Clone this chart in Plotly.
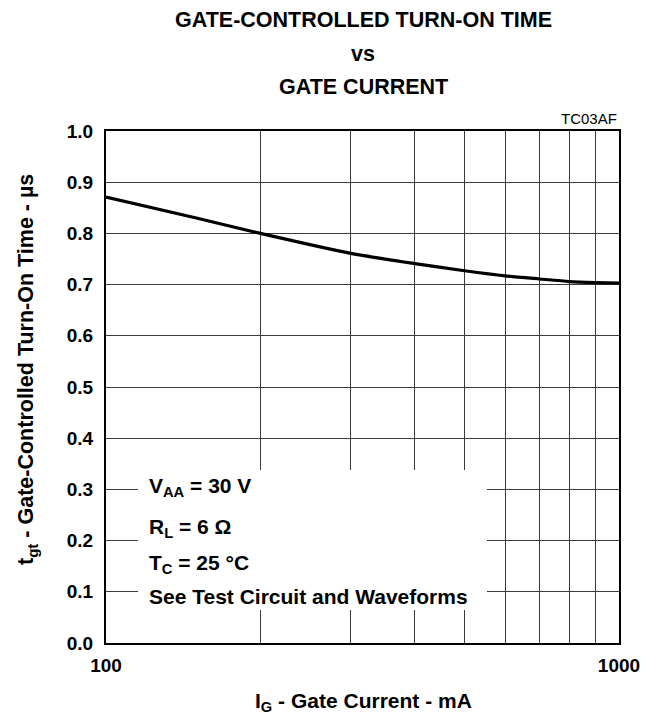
import plotly.graph_objects as go

# Data
gate_current_mA = [100, 150, 200, 300, 400, 500, 600, 700, 800, 900, 1000]
turn_on_time_us = [0.871, 0.830, 0.800, 0.761, 0.741, 0.727, 0.717, 0.711, 0.706, 0.704, 0.703]

x_tick_vals = [100, 200, 300, 400, 500, 600, 700, 800, 900, 1000]
x_tick_text = ["100", "", "", "", "", "", "", "", "", "1000"]
y_tick_vals = [0.0, 0.1, 0.2, 0.3, 0.4, 0.5, 0.6, 0.7, 0.8, 0.9, 1.0]
y_tick_text = ["0.0", "0.1", "0.2", "0.3", "0.4", "0.5", "0.6", "0.7", "0.8", "0.9", "1.0"]

title_lines = ["GATE-CONTROLLED TURN-ON TIME", "vs", "GATE CURRENT"]
condition_lines = ["V<sub>AA</sub> = 30 V", "R<sub>L</sub> = 6 Ω", "T<sub>C</sub> = 25 °C",
                   "See Test Circuit and Waveforms"]

FONT = "Liberation Sans, Arial, sans-serif"

# Layout geometry (page pixels); the page body has an 8px default margin
W, H = 651, 720
OFF = 8
L, R, T, B = 106, 619, 131, 643
pw, ph = R - L, B - T


def px_x(p):
    return (p - L) / pw


def px_y(p):
    return (B - p) / ph


fig = go.Figure()
fig.add_trace(go.Scatter(
    x=gate_current_mA, y=turn_on_time_us, mode="lines",
    line=dict(color="black", width=3.2, shape="spline", smoothing=0.6),
    hoverinfo="skip", showlegend=False))

axis_common = dict(showline=True, mirror=True, linecolor="black", linewidth=2,
                   showgrid=True, gridcolor="#3a3a3a", gridwidth=1, zeroline=False,
                   ticks="", tickfont=dict(family=FONT, size=19, color="black", weight="bold"))

fig.update_xaxes(type="log", range=[2, 3], tickmode="array", tickvals=x_tick_vals,
                 ticktext=x_tick_text, ticklabelstandoff=4, **axis_common)
fig.update_yaxes(range=[0, 1.0], tickmode="array", tickvals=y_tick_vals,
                 ticktext=y_tick_text, ticklabelstandoff=7, **axis_common)

# white box masking the grid behind the conditions text
fig.add_shape(type="rect", xref="paper", yref="paper",
              x0=px_x(138), x1=px_x(487), y0=px_y(610), y1=px_y(470),
              fillcolor="white", line=dict(width=0), layer="above")

annotations = []
for txt, py in zip(title_lines, [20, 54, 87]):
    annotations.append(dict(text="<b>" + txt + "</b>", xref="paper", yref="paper",
                            x=px_x(363), y=px_y(py), xanchor="center", yanchor="middle",
                            showarrow=False, font=dict(family=FONT, size=21.5, color="black")))

annotations.append(dict(text="TC03AF", xref="paper", yref="paper", x=1.0, y=px_y(118),
                        xanchor="right", yanchor="middle", showarrow=False,
                        font=dict(family=FONT, size=15, color="black")))

for txt, py in zip(condition_lines, [487, 528, 564, 596]):
    annotations.append(dict(text="<b>" + txt + "</b>", xref="paper", yref="paper",
                            x=px_x(147), y=px_y(py), xanchor="left", yanchor="middle",
                            showarrow=False, font=dict(family=FONT, size=21, color="black")))

annotations.append(dict(text="<b>t<sub>gt</sub> - Gate-Controlled Turn-On Time - µs</b>",
                        xref="paper", yref="paper", x=px_x(27), y=px_y(370),
                        xanchor="center", yanchor="middle", textangle=-90, showarrow=False,
                        font=dict(family=FONT, size=21.5, color="black")))
annotations.append(dict(text="<b>I<sub>G</sub> - Gate Current - mA</b>",
                        xref="paper", yref="paper", x=px_x(363), y=px_y(702),
                        xanchor="center", yanchor="middle", showarrow=False,
                        font=dict(family=FONT, size=21, color="black")))

fig.update_layout(width=W - OFF, height=H - OFF,
                  margin=dict(l=L - OFF, r=W - R, t=T - OFF, b=H - B, pad=0),
                  paper_bgcolor="white", plot_bgcolor="white", annotations=annotations,
                  font=dict(family=FONT, color="black"))

fig.write_html("out.html")
